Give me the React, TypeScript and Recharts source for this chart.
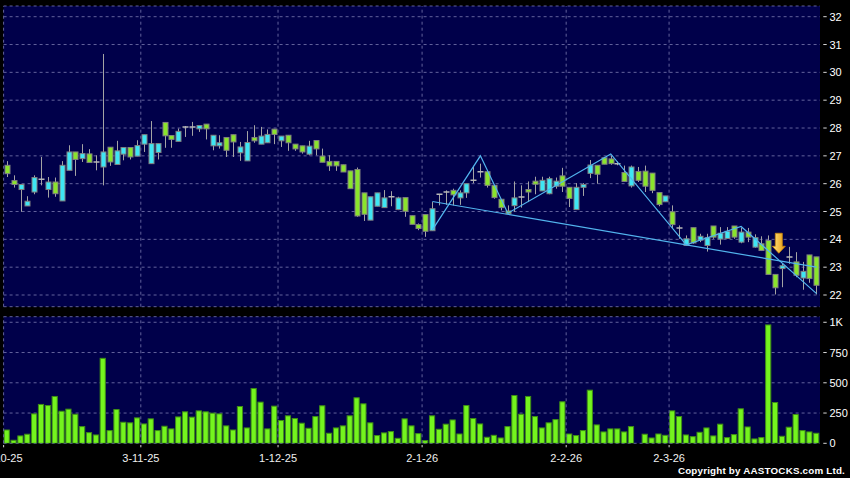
import React from "react";
import {
  ComposedChart,
  Bar,
  Line,
  XAxis,
  YAxis,
  CartesianGrid,
  ReferenceLine,
  ReferenceDot,
} from "recharts";

// daily OHLC, 2 Oct 2025 .. 31 Mar 2026
const opens = [
  26.66, 26.11, 25.79, 25.2, 25.7, 26.16, 25.79, 26.06, 25.38, 26.48, 27.14, 26.9, 27.07, 26.78, 26.6, 27.31, 26.69, 27.06, 27.3, 26.99,
  27.42, 26.72, 27.12, 28.2, 27.73, 27.52, 28.04, 28.04, 27.97, 28.14, 27.36, 27.36, 27.66, 27.76, 27.11, 26.82, 27.66, 27.42, 27.47, 27.96,
  27.54, 27.74, 27.42, 27.36, 27.06, 27.55, 26.99, 26.8, 26.8, 26.68, 26.46, 26.51, 25.67, 24.69, 25.19, 25.14, 25.53, 25.07, 25.5, 24.85,
  24.53, 24.89, 24.31, 25.62, 25.7, 25.76, 25.49, 25.67, 26.12, 26.43, 26.43, 25.94, 25.44, 25.02, 25.21, 25.52, 25.79, 26.09, 25.74, 25.64,
  25.91, 26.28, 25.87, 25.07, 25.87, 26.37, 26.66, 26.93, 26.89, 26.72, 26.4, 25.92, 26.44, 26.45, 26.38, 25.68, 25.35, 24.99, 24.41, 23.78,
  24.42, 23.97, 23.78, 24.48, 24.01, 24.03, 24.48, 23.9, 24.26, 23.72, 23.84, 23.96, 22.74, 22.95, 23.37, 23.19, 22.61, 23.44, 23.37,
];
const highs = [
  26.81, 26.3, 25.97, 25.55, 26.3, 26.96, 26.24, 26.22, 26.81, 27.38, 27.14, 27.42, 27.24, 27.02, 30.66, 27.31, 27.54, 27.3, 27.3, 27.56,
  27.76, 28.25, 27.44, 28.2, 27.73, 27.98, 28.07, 28.22, 28.09, 28.14, 27.74, 27.74, 27.66, 27.76, 27.5, 27.89, 28.1, 28.04, 27.95, 27.96,
  27.71, 27.74, 27.42, 27.36, 27.54, 27.55, 27.26, 27.02, 26.8, 26.68, 26.46, 26.58, 25.67, 25.53, 25.67, 25.77, 25.73, 25.53, 25.5, 24.85,
  24.57, 24.89, 25.34, 25.62, 25.76, 25.82, 25.76, 26.0, 26.64, 26.72, 26.43, 25.94, 25.44, 25.22, 26.08, 25.94, 26.08, 26.25, 26.25, 26.25,
  26.22, 26.57, 25.87, 26.02, 26.02, 26.85, 26.66, 26.96, 27.0, 26.8, 26.65, 26.65, 26.6, 26.65, 26.38, 25.68, 25.56, 25.22, 24.5, 24.14,
  24.42, 24.2, 24.2, 24.48, 24.44, 24.44, 24.48, 24.42, 24.41, 24.18, 24.11, 24.14, 22.74, 23.12, 23.73, 23.54, 23.19, 23.44, 23.37,
];
const lows = [
  26.24, 25.86, 24.99, 25.2, 25.62, 25.94, 25.5, 25.53, 25.38, 26.48, 26.28, 26.78, 26.76, 26.48, 25.94, 26.64, 26.69, 26.84, 26.87, 26.99,
  27.14, 26.72, 26.87, 27.29, 27.29, 27.52, 27.68, 27.72, 27.86, 27.59, 27.2, 27.26, 26.96, 26.96, 26.82, 26.82, 27.47, 27.42, 27.47, 27.42,
  27.32, 27.18, 27.18, 27.08, 27.02, 27.02, 26.77, 26.46, 26.46, 26.42, 25.82, 24.81, 24.66, 24.69, 25.19, 25.14, 25.19, 25.05, 24.81, 24.54,
  24.33, 24.09, 24.31, 25.22, 25.24, 25.22, 25.24, 25.49, 26.02, 26.22, 25.86, 25.46, 25.04, 24.89, 24.99, 25.14, 25.34, 25.62, 25.74, 25.62,
  25.82, 25.7, 25.16, 25.07, 25.56, 26.2, 26.0, 26.7, 26.68, 26.66, 26.06, 25.86, 26.06, 25.7, 25.66, 25.19, 25.35, 24.41, 24.02, 23.78,
  23.84, 23.9, 23.56, 24.02, 23.81, 24.03, 24.02, 23.86, 23.9, 23.7, 23.58, 22.74, 22.02, 22.28, 23.12, 22.64, 22.19, 22.44, 22.02,
];
const closes = [
  26.36, 25.97, 25.97, 25.37, 26.22, 26.16, 26.06, 25.64, 26.66, 27.14, 26.87, 27.08, 26.76, 26.78, 27.14, 26.78, 27.18, 27.3, 26.96, 27.37,
  27.76, 27.44, 27.44, 27.72, 27.59, 27.88, 28.04, 28.04, 28.09, 27.97, 27.74, 27.47, 27.2, 27.5, 27.32, 27.48, 27.54, 27.71, 27.77, 27.77,
  27.71, 27.47, 27.25, 27.14, 27.35, 27.25, 26.77, 26.64, 26.64, 26.42, 25.82, 24.84, 24.9, 25.53, 25.67, 25.49, 25.53, 25.49, 25.01, 24.54,
  24.39, 24.29, 25.1, 25.62, 25.7, 25.6, 25.67, 26.0, 26.12, 26.43, 25.94, 25.5, 25.14, 24.92, 25.49, 25.52, 25.7, 25.98, 26.12, 26.18,
  26.09, 25.91, 25.47, 25.87, 25.97, 26.67, 26.34, 26.7, 26.72, 26.72, 26.08, 26.6, 26.12, 25.91, 25.76, 25.25, 25.56, 24.53, 24.41, 24.02,
  23.87, 24.11, 24.06, 24.08, 24.22, 24.29, 24.08, 24.26, 24.08, 24.06, 23.6, 22.74, 22.26, 23.05, 23.37, 22.71, 22.85, 22.59, 22.35,
];
// volume in thousands
const volumes = [
  110, 25, 61, 75, 243, 321, 312, 387, 265, 282, 240, 138, 88, 69, 702, 105, 279, 174, 169, 210,
  160, 202, 105, 141, 119, 218, 260, 216, 268, 260, 249, 243, 144, 110, 304, 127, 453, 340, 119, 307,
  188, 227, 205, 166, 124, 221, 310, 83, 127, 144, 227, 376, 326, 169, 64, 86, 97, 41, 202, 144,
  80, 22, 227, 116, 158, 193, 77, 312, 205, 160, 50, 66, 44, 138, 395, 240, 387, 221, 127, 169,
  196, 343, 77, 64, 105, 439, 152, 94, 119, 119, 94, 138, 0, 75, 44, 77, 66, 268, 221, 69,
  55, 91, 127, 61, 158, 47, 72, 285, 135, 36, 47, 978, 337, 58, 133, 238, 105, 94, 83,
];

const tickIdx = [0, 20, 40, 61, 82, 97];
const tickLabels = ["2-10-25", "3-11-25", "1-12-25", "2-1-26", "2-2-26", "2-3-26"];
const priceTicks = [22, 23, 24, 25, 26, 27, 28, 29, 30, 31, 32];
const volTicks = [0, 250, 500, 750, 1000];

// drawn pattern lines
const trendIdx = [62, 118];
const trendVals = [25.36, 23.0];
const zigIdx = [62, 69, 73, 88, 99, 107, 118];
const zigVals = [24.34, 27.0, 24.94, 27.07, 23.8, 24.46, 22.05];
const signalIdx = 112;
const signalPrice = 23.5;

const data = opens.map((o, i) => {
  const t = trendIdx.indexOf(i);
  const z = zigIdx.indexOf(i);
  return {
    i,
    o,
    h: highs[i],
    l: lows[i],
    c: closes[i],
    v: volumes[i],
    tl: t >= 0 ? trendVals[t] : null,
    zz: z >= 0 ? zigVals[z] : null,
  };
});

const NAVY = "#00004a";
const GRID = "#62629c";
const CYAN = "#3ee6f4";
const GREEN = "#8ae42c";
const WICK = "#a4a4a4";
const LINE = "#52b4ee";
const FONT = "'Liberation Sans', Arial, sans-serif";

function Candle(props: any) {
  const { x, y, width, height, payload } = props;
  const { o, h, l, c } = payload;
  const cx = Math.round(x + width / 2) + 0.5;
  const k = h > l ? height / (h - l) : 0;
  const py = (v: number) => y + (h - v) * k;
  const top = py(Math.max(o, c));
  const bot = py(Math.min(o, c));
  const fill = c > o ? CYAN : GREEN;
  return (
    <g>
      <line x1={cx} x2={cx} y1={y} y2={y + height} stroke={WICK} strokeWidth={1} />
      {c === o ? (
        <line x1={cx - 3} x2={cx + 3} y1={top} y2={top} stroke="#b8b8b8" strokeWidth={1.5} />
      ) : (
        <rect x={cx - 2.5} y={top} width={5} height={Math.max(bot - top, 1.5)} fill={fill} stroke="#808080" strokeWidth={1} />
      )}
    </g>
  );
}

function VolBar(props: any) {
  const { x, y, width, height } = props;
  if (!height || height <= 0) return null;
  return <rect x={x + 0.5} y={y} width={width - 1} height={height} fill="#74f41e" stroke="#3f8e16" strokeWidth={1} />;
}

function Arrow(props: any) {
  const cx = props.cx + 3.4;
  const cy = props.cy;
  const pts = [
    [cx - 3.5, cy - 20],
    [cx + 3.5, cy - 20],
    [cx + 3.5, cy - 7],
    [cx + 6.5, cy - 7],
    [cx, cy],
    [cx - 6.5, cy - 7],
    [cx - 3.5, cy - 7],
  ]
    .map((p) => p.join(","))
    .join(" ");
  return (
    <g>
      <defs>
        <linearGradient id="arrowFill" x1="0" x2="1" y1="0" y2="0">
          <stop offset="0%" stopColor="#ffe680" />
          <stop offset="100%" stopColor="#e8980c" />
        </linearGradient>
      </defs>
      <polygon points={pts} fill="url(#arrowFill)" stroke="#c8840a" strokeWidth={0.8} />
    </g>
  );
}

function YTick(props: any) {
  const { x, y, payload, fmt } = props;
  return (
    <g>
      <line x1={x + 3.3} x2={x + 6.7} y1={y} y2={y} stroke="#d8d8d8" strokeWidth={1} />
      <text x={x + 9.5} y={y} dy={4} fill="#ffffff" fontSize={11} fontFamily={FONT} textAnchor="start">
        {fmt ? fmt(payload.value) : payload.value}
      </text>
    </g>
  );
}

function XTick(props: any) {
  const { x, y, payload } = props;
  const k = tickIdx.indexOf(payload.value);
  const tx = x - 3.4;
  return (
    <g>
      <line x1={tx} x2={tx} y1={y + 1.7} y2={y + 4} stroke="#d8d8d8" strokeWidth={1} />
      <text x={tx} y={y + 18.4} fill="#f0f0f0" fontSize={11} fontFamily={FONT} textAnchor="middle">
        {k >= 0 ? tickLabels[k] : ""}
      </text>
    </g>
  );
}

const fmtVol = (v: number) => (v >= 1000 ? `${v / 1000}K` : `${v}`);

export default function App() {
  return (
    <div
      style={{
        position: "fixed",
        left: 0,
        top: 0,
        width: 850,
        height: 478,
        background: "#000",
        overflow: "hidden",
        fontFamily: FONT,
      }}
    >
      <div style={{ position: "absolute", left: 0, top: 0 }}>
        <ComposedChart width={850} height={310} data={data} margin={{ top: 6, right: 0, left: 3.6, bottom: 3.3 }}>
          <CartesianGrid vertical={false} fill={NAVY} stroke={GRID} strokeDasharray="3 3" />
          <XAxis dataKey="i" hide />
          <YAxis
            orientation="right"
            width={30}
            domain={[21.58, 32.384]}
            ticks={priceTicks}
            allowDataOverflow
            axisLine={false}
            tickLine={false}
            tickSize={0}
            tickMargin={0}
            tick={(p: any) => <YTick {...p} />}
          />
          {tickIdx.map((t) => (
            <ReferenceLine key={t} x={t} position="start" stroke={GRID} strokeDasharray="3 3" />
          ))}
          <Bar dataKey={(d: any) => [d.l, d.h]} shape={Candle} isAnimationActive={false} />
          <Line dataKey="tl" stroke={LINE} strokeWidth={1.2} dot={false} connectNulls isAnimationActive={false} />
          <Line dataKey="zz" stroke={LINE} strokeWidth={1.2} dot={false} connectNulls isAnimationActive={false} />
          <ReferenceDot x={signalIdx} y={signalPrice} r={0} shape={Arrow} ifOverflow="visible" />
        </ComposedChart>
      </div>
      <div style={{ position: "absolute", left: 0, top: 310 }}>
        <ComposedChart width={850} height={168} data={data} margin={{ top: 6.7, right: 0, left: 3.6, bottom: 4.7 }}>
          <CartesianGrid vertical={false} fill={NAVY} stroke={GRID} strokeDasharray="3 3" />
          <XAxis
            dataKey="i"
            ticks={tickIdx}
            interval={0}
            height={30}
            axisLine={false}
            tickLine={false}
            tickSize={0}
            tickMargin={0}
            tick={(p: any) => <XTick {...p} />}
          />
          <YAxis
            orientation="right"
            width={30}
            domain={[0, 1046]}
            ticks={volTicks}
            allowDataOverflow
            axisLine={false}
            tickLine={false}
            tickSize={0}
            tickMargin={0}
            tick={(p: any) => <YTick {...p} fmt={fmtVol} />}
          />
          {tickIdx.map((t) => (
            <ReferenceLine key={t} x={t} position="start" stroke={GRID} strokeDasharray="3 3" />
          ))}
          <Bar dataKey="v" shape={VolBar} barSize={7} isAnimationActive={false} />
        </ComposedChart>
      </div>
      <div
        style={{
          position: "absolute",
          right: 5,
          top: 465,
          color: "#fff",
          fontSize: 9.8,
          fontWeight: "bold",
          letterSpacing: 0.2,
          whiteSpace: "nowrap",
          lineHeight: "12px",
        }}
      >
        Copyright by AASTOCKS.com Ltd.
      </div>
    </div>
  );
}
